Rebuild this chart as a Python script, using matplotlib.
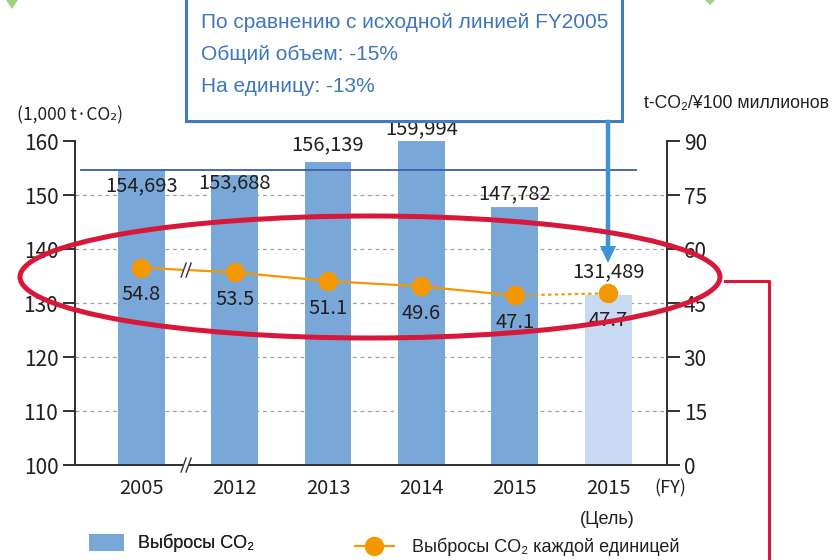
import matplotlib
matplotlib.use("Agg")
import matplotlib.pyplot as plt
from matplotlib.patches import Ellipse, Rectangle, Polygon
from matplotlib.lines import Line2D

# ---------------- data ----------------
years = ["2005", "2012", "2013", "2014", "2015", "2015"]
emissions = [154.693, 153.688, 156.139, 159.994, 147.782, 131.489]   # 1,000 t-CO2
emission_labels = ["154,693", "153,688", "156,139", "159,994", "147,782", "131,489"]
unit_emissions = [54.8, 53.5, 51.1, 49.6, 47.1, 47.7]               # t-CO2 / ¥100 mln
left_ticks = [100, 110, 120, 130, 140, 150, 160]
right_ticks = [0, 15, 30, 45, 60, 75, 90]
baseline = 154.693

W, H = 832, 560
fig = plt.figure(figsize=(W / 100, H / 100), dpi=100)

def fx(px):
    return px / W

def fy(py):
    return 1 - py / H

DARK = "#231f20"
BAR = "#78a7d8"
BAR_T = "#c8daf1"
ORANGE = "#f39800"
RED = "#d7183a"
BLUE_TXT = "#3e76bd"
NUM_FONT = ["Noto Sans CJK JP", "DejaVu Sans"]
RU_FONT = ["Liberation Sans", "DejaVu Sans"]

ax = fig.add_axes([fx(75), fy(465), fx(667) - fx(75), fy(141) - fy(465)])
ax2 = ax.twinx()

x = list(range(len(years)))
colors = [BAR] * 5 + [BAR_T]
bars = ax.bar(x, emissions, width=0.5, color=colors, zorder=2, label="Выбросы CO₂")
ax.set_xlim(-0.71, 5.63)
ax.set_ylim(100, 160)
ax2.set_ylim(0, 90)

# grid lines
for v in left_ticks[1:-1]:
    ax.axhline(v, color="#a0a0a0", lw=0.9, ls=(0, (3, 3)), zorder=1)

# baseline line
ax.plot([-0.65, 5.3], [baseline, baseline], color="#3b5bab", lw=1.3, zorder=3)

# ticks
ax.set_yticks(left_ticks)
ax.set_yticklabels([str(v) for v in left_ticks], family=NUM_FONT, fontsize=15, color=DARK)
ax2.set_yticks(right_ticks)
ax2.set_yticklabels([str(v) for v in right_ticks], family=NUM_FONT, fontsize=15, color=DARK)
ax.set_xticks(x)
ax.set_xticklabels(years, family=NUM_FONT, fontsize=14.5, color=DARK)
ax.tick_params(axis="x", length=0, pad=9)
ax.tick_params(axis="y", length=9, width=1.3, color=DARK, pad=3)
ax2.tick_params(axis="y", length=9, width=1.3, color=DARK, pad=3)
for a in (ax, ax2):
    a.spines["top"].set_visible(False)
    for s in ("left", "right", "bottom"):
        a.spines[s].set_color("#333333")
        a.spines[s].set_linewidth(1.3)

# bar value labels (offset in pixels, positive = above top)
offsets_px = [-16, -8, 17, 12, 13, 23]
for xi, v, lab, off in zip(x, emissions, emission_labels, offsets_px):
    ax.annotate(lab, (xi, v), xytext=(0, off * 0.72), textcoords="offset points",
                ha="center", va="center", family=NUM_FONT, fontsize=14.5, color=DARK, zorder=6)

# unit emission line
line, = ax2.plot(x[:5], unit_emissions[:5], color=ORANGE, lw=1.6, marker="o",
                 markersize=14, markeredgewidth=0, zorder=5,
                 label="Выбросы CO₂ каждой единицей")
ax2.plot(x[4:], unit_emissions[4:], color=ORANGE, lw=1.6, ls=(0, (1.5, 1.5)), zorder=5)
ax2.plot(x[5:], unit_emissions[5:], color=ORANGE, lw=0, marker="o", markersize=14,
         markeredgewidth=0, zorder=5)
for xi, v in zip(x, unit_emissions):
    ax2.annotate(f"{v:.1f}", (xi, v), xytext=(0, -27 * 0.72), textcoords="offset points",
                 ha="center", va="center", family=NUM_FONT, fontsize=14.5, color=DARK, zorder=6)

# break marks
def break_mark(a, xd, yd):
    tr = a.transData
    px, py = tr.transform((xd, yd))
    for dx in (-2.5, 2.5):
        xs = [px + dx - 2.5, px + dx, px + dx + 2.5]
        ys = [py - 7, py, py + 7]
        xs_f = [fx(v) for v in xs]
        ys_f = [v / H for v in ys]
        fig.add_artist(Line2D(xs_f, ys_f, color="#333333", lw=1.0, zorder=7))
    fig.add_artist(Rectangle((fx(px - 3), (py - 5) / H), 6 / W, 10 / H,
                             facecolor="white", edgecolor="none", zorder=6.5))

fig.canvas.draw()
break_mark(ax, 0.48, 100)
break_mark(ax2, 0.48, (unit_emissions[0] + unit_emissions[1]) / 2)

# axis unit labels
fig.text(fx(17), fy(115), "(1,000 t·CO₂)", family=NUM_FONT, fontsize=12.5, color=DARK,
         ha="left", va="center")
fig.text(fx(644), fy(104), "t-CO₂/¥100 миллионов", family=RU_FONT, fontsize=12.7,
         color=DARK, ha="left", va="center")
fig.text(fx(670), fy(488), "(FY)", family=NUM_FONT, fontsize=13, color=DARK,
         ha="center", va="center")
fig.text(fx(607), fy(520), "(Цель)", family=RU_FONT, fontsize=13, color=DARK,
         ha="center", va="center")

# legend (two separate entries at their own spots)
leg1 = ax.legend(handles=[bars], loc="center left",
                 bbox_to_anchor=(fx(89), fy(543)), bbox_transform=fig.transFigure,
                 frameon=False, prop={"family": RU_FONT, "size": 13},
                 handlelength=1.95, handleheight=1.1, handletextpad=0.75,
                 borderpad=0, borderaxespad=0)
ax.add_artist(leg1)
leg2 = ax2.legend(handles=[line], loc="center left",
                  bbox_to_anchor=(fx(355), fy(547)), bbox_transform=fig.transFigure,
                  frameon=False, prop={"family": RU_FONT, "size": 13},
                  handlelength=2.15, handletextpad=1.0, borderpad=0, borderaxespad=0)
for lg in (leg1, leg2):
    for t in lg.get_texts():
        t.set_color(DARK)

# callout box
fig.add_artist(Rectangle((fx(186), fy(121)), fx(622) - fx(186), fy(-10) - fy(121),
                         facecolor="white", edgecolor="#3f7cc4", lw=2.2, zorder=8))
for ty, txt in zip([22, 55, 86], ["По сравнению с исходной линией FY2005",
                                  "Общий объем: -15%", "На единицу: -13%"]):
    fig.text(fx(201), fy(ty), txt, family=RU_FONT, fontsize=15, color=BLUE_TXT,
             ha="left", va="center", zorder=9)

# arrow
fig.add_artist(Line2D([fx(608), fx(608)], [fy(122), fy(248)], color="#3d93d8", lw=3.2, zorder=8))
fig.add_artist(Polygon([(fx(600), fy(246)), (fx(616), fy(246)), (fx(608), fy(263))],
                       closed=True, facecolor="#3d93d8", edgecolor="none", zorder=8))

# red ellipse + connector
fig.add_artist(Ellipse((fx(370), fy(277)), fx(700), 122 / H, fill=False,
                       edgecolor=RED, lw=3.6, zorder=10))
fig.add_artist(Line2D([fx(725), fx(769), fx(769)], [fy(281), fy(281), fy(565)],
                      color=RED, lw=2.2, zorder=10))

# small green decorations at the top
fig.add_artist(Polygon([(fx(6), fy(0)), (fx(18), fy(0)), (fx(12), fy(9))], closed=True,
                       facecolor="#9fd27f", edgecolor="none", zorder=1))
fig.add_artist(Polygon([(fx(705), fy(0)), (fx(715), fy(0)), (fx(710), fy(5))], closed=True,
                       facecolor="#9fd27f", edgecolor="none", zorder=1))

fig.savefig("out.png", dpi=100)
